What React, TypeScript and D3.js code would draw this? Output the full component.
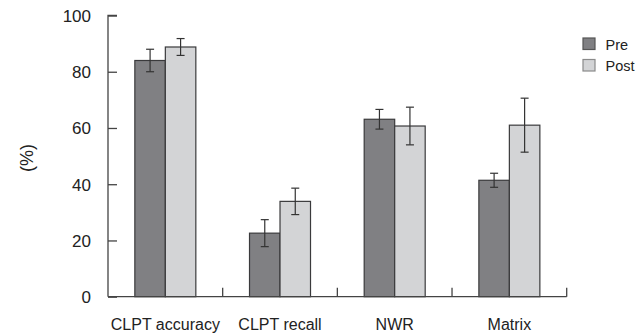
import React, { useRef, useEffect } from "react";
import * as d3 from "d3";

const categories = ["CLPT accuracy", "CLPT recall", "NWR", "Matrix"];
const seriesNames = ["Pre", "Post"];
const preValues = [84, 22.6, 63.1, 41.4];
const preErrors = [4, 4.8, 3.5, 2.5];
const postValues = [88.8, 33.9, 60.7, 61];
const postErrors = [3, 4.7, 6.7, 9.6];
const yTicks = [0, 20, 40, 60, 80, 100];

const fills = ["#808083", "#d3d4d6"];
const strokes = ["#3a3a3c", "#3a3a3c"];
const legendStrokes = ["#555", "#8a8a8a"];
const font = "'Liberation Sans', sans-serif";

const App = () => {
  const svgRef = useRef<SVGSVGElement>(null);

  useEffect(() => {
    if (!svgRef.current) return;
    const width = 643;
    const height = 334;
    const left = 108;
    const right = 566.7;
    const top = 15.5;
    const bottom = 296.7;

    const svg = d3.select(svgRef.current);
    svg.selectAll("*").remove();

    const x = d3.scaleBand().domain(categories).range([left, right]).paddingInner(0).paddingOuter(0);
    const inner = d3
      .scaleBand()
      .domain(seriesNames)
      .range([0, x.bandwidth()])
      .paddingInner(0)
      .paddingOuter(0.88);
    const y = d3.scaleLinear().domain([0, 100]).range([bottom, top]);

    const axisColor = "#444";

    // y axis
    svg
      .append("g")
      .attr("transform", `translate(${left},0)`)
      .call(d3.axisRight(y).tickValues(yTicks).tickSize(9).tickFormat(() => ""))
      .call((g) => g.select(".domain").attr("stroke", axisColor).attr("stroke-width", 1.3).attr("d", `M9,${top}H0V${bottom}`))
      .call((g) => g.selectAll(".tick line").attr("stroke", axisColor).attr("stroke-width", 1.3));

    svg
      .append("g")
      .selectAll("text")
      .data(yTicks)
      .join("text")
      .attr("x", 91)
      .attr("y", (d) => y(d) + 6.3)
      .attr("text-anchor", "end")
      .style("font-family", font)
      .style("font-size", "17px")
      .attr("fill", "#222")
      .text((d) => d);

    // y label
    svg
      .append("text")
      .attr("transform", `translate(33,158) rotate(-90)`)
      .attr("text-anchor", "middle")
      .style("font-family", font)
      .style("font-size", "18px")
      .attr("fill", "#222")
      .text("(%)");

    const series = [
      { values: preValues, errors: preErrors },
      { values: postValues, errors: postErrors },
    ];

    // bars
    series.forEach((s, si) => {
      const g = svg.append("g");
      g.selectAll("rect")
        .data(categories)
        .join("rect")
        .attr("x", (c) => (x(c) as number) + (inner(seriesNames[si]) as number))
        .attr("y", (c, i) => y(s.values[i]))
        .attr("width", inner.bandwidth())
        .attr("height", (c, i) => bottom - y(s.values[i]))
        .attr("fill", fills[si])
        .attr("stroke", strokes[si])
        .attr("stroke-width", 1.2);
    });

    // error bars
    series.forEach((s, si) => {
      const g = svg.append("g").attr("stroke", "#333").attr("stroke-width", 1.2);
      categories.forEach((c, i) => {
        const cx = (x(c) as number) + (inner(seriesNames[si]) as number) + inner.bandwidth() / 2;
        const hi = y(s.values[i] + s.errors[i]);
        const lo = y(s.values[i] - s.errors[i]);
        g.append("line").attr("x1", cx).attr("x2", cx).attr("y1", hi).attr("y2", lo);
        g.append("line").attr("x1", cx - 4).attr("x2", cx + 4).attr("y1", hi).attr("y2", hi);
        g.append("line").attr("x1", cx - 4).attr("x2", cx + 4).attr("y1", lo).attr("y2", lo);
      });
    });

    // x axis
    const boundaries = categories.map((c) => (x(c) as number) + x.bandwidth());
    svg
      .append("line")
      .attr("x1", left)
      .attr("x2", right)
      .attr("y1", bottom)
      .attr("y2", bottom)
      .attr("stroke", axisColor)
      .attr("stroke-width", 1.3);
    svg
      .append("g")
      .selectAll("line")
      .data(boundaries)
      .join("line")
      .attr("x1", (d) => d)
      .attr("x2", (d) => d)
      .attr("y1", bottom)
      .attr("y2", bottom - 9)
      .attr("stroke", axisColor)
      .attr("stroke-width", 1.3);

    svg
      .append("g")
      .selectAll("text")
      .data(categories)
      .join("text")
      .attr("x", (c) => (x(c) as number) + x.bandwidth() / 2)
      .attr("y", 329.5)
      .attr("text-anchor", "middle")
      .style("font-family", font)
      .style("font-size", "16px")
      .attr("fill", "#222")
      .text((c) => c);

    // legend
    const legend = svg.append("g").attr("transform", "translate(583,38)");
    seriesNames.forEach((name, i) => {
      const row = legend.append("g").attr("transform", `translate(0,${i * 21.5})`);
      row
        .append("rect")
        .attr("x", 0)
        .attr("y", 0)
        .attr("width", 12)
        .attr("height", 11.5)
        .attr("fill", fills[i])
        .attr("stroke", legendStrokes[i])
        .attr("stroke-width", 1.2);
      row
        .append("text")
        .attr("x", 22.5)
        .attr("y", 11.5)
        .style("font-family", font)
        .style("font-size", "14.5px")
        .attr("fill", "#222")
        .text(name);
    });

    svg.attr("width", width).attr("height", height);
  }, []);

  return (
    <svg
      ref={svgRef}
      width={643}
      height={334}
      style={{ position: "absolute", left: 0, top: 0, background: "#fff" }}
    ></svg>
  );
};

export default App;
